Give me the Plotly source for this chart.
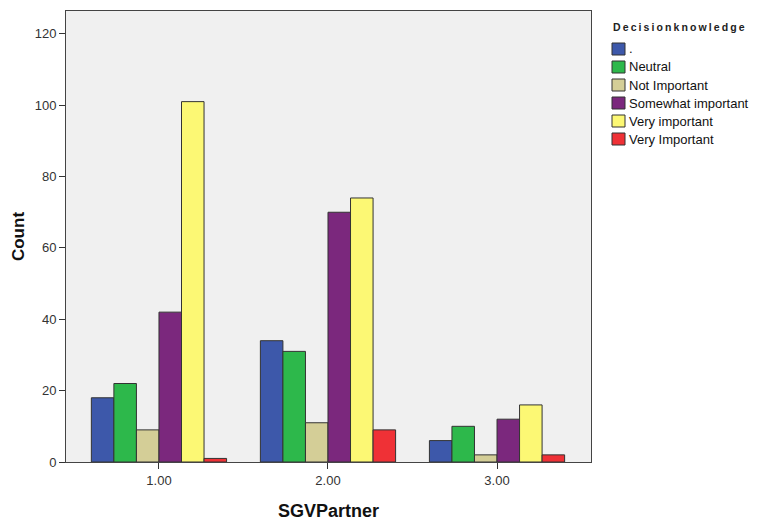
import plotly.graph_objects as go

categories = [1, 2, 3]
tick_labels = ["1.00", "2.00", "3.00"]
y_ticks = [0, 20, 40, 60, 80, 100, 120]
series_names = [".", "Neutral", "Not Important", "Somewhat important", "Very important", "Very Important"]
dot_vals = [18, 34, 6]
neutral_vals = [22, 31, 10]
not_important_vals = [9, 11, 2]
somewhat_vals = [42, 70, 12]
very_lower_vals = [101, 74, 16]
very_upper_vals = [1, 9, 2]
colors = ["#3d58aa", "#2db84b", "#d4ce97", "#7b287d", "#fcf874", "#ef3136"]
legend_title = "Decisionknowledge"

all_vals = [dot_vals, neutral_vals, not_important_vals, somewhat_vals, very_lower_vals, very_upper_vals]

fig = go.Figure()
for name, vals, col in zip(series_names, all_vals, colors):
    fig.add_trace(go.Bar(
        x=categories, y=vals, name=name,
        marker=dict(color=col, line=dict(color="#333333", width=1)),
    ))

# layout geometry (page offset of 8px from body margin compensated)
W, H = 751, 515
L, T = 58, 3
PW, PH = 525, 451
R = W - L - PW
B = H - T - PH

def px(xs):  # screen x -> paper x
    return (xs - 66) / PW

def py(ys):  # screen y -> paper y
    return (462 - ys) / PH

shapes = []
annotations = []
row_y = [49, 67, 85, 103, 121, 139]
for name, col, cy in zip(series_names, colors, row_y):
    shapes.append(dict(type="rect", xref="paper", yref="paper",
                       x0=px(612), x1=px(625), y0=py(cy + 6), y1=py(cy - 6),
                       fillcolor=col, line=dict(color="#333333", width=1)))
    annotations.append(dict(xref="paper", yref="paper", x=px(627), y=py(cy),
                            xanchor="left", yanchor="middle", showarrow=False,
                            text=name, font=dict(size=13, color="#111111")))
annotations.append(dict(xref="paper", yref="paper", x=px(679), y=py(27),
                        xanchor="center", yanchor="middle", showarrow=False,
                        text="<b>" + "\u2009".join(legend_title) + "</b>",
                        font=dict(size=10.5, color="#222222")))

font_family = "Arial, Liberation Sans, sans-serif"
fig.update_layout(
    width=W, height=H,
    barmode="group", bargap=0.2, bargroupgap=0,
    paper_bgcolor="white", plot_bgcolor="#f0f0f0",
    margin=dict(l=L, r=R, t=T, b=B, autoexpand=False),
    font=dict(family=font_family, size=13, color="#222"),
    showlegend=False,
    shapes=shapes,
    annotations=annotations,
    xaxis=dict(
        range=[0.45, 3.556], tickvals=categories, ticktext=tick_labels,
        ticks="outside", ticklen=6, tickcolor="#333", showgrid=False,
        showline=True, linecolor="#444", linewidth=1, mirror=True,
        zeroline=False, automargin=False,
        tickfont=dict(size=13, color="#333"),
        title=dict(text="<b>SGVPartner</b>", font=dict(size=18, color="#111"), standoff=17),
    ),
    yaxis=dict(
        range=[0, 126.4], tickvals=y_ticks,
        ticks="outside", ticklen=6, tickcolor="#333", showgrid=False,
        showline=True, linecolor="#444", linewidth=1, mirror=True,
        zeroline=False, automargin=False,
        tickfont=dict(size=13, color="#333"),
        title=dict(text="<b>Count</b>", font=dict(size=17, color="#111"), standoff=5),
    ),
)

fig.write_html("out.html")
